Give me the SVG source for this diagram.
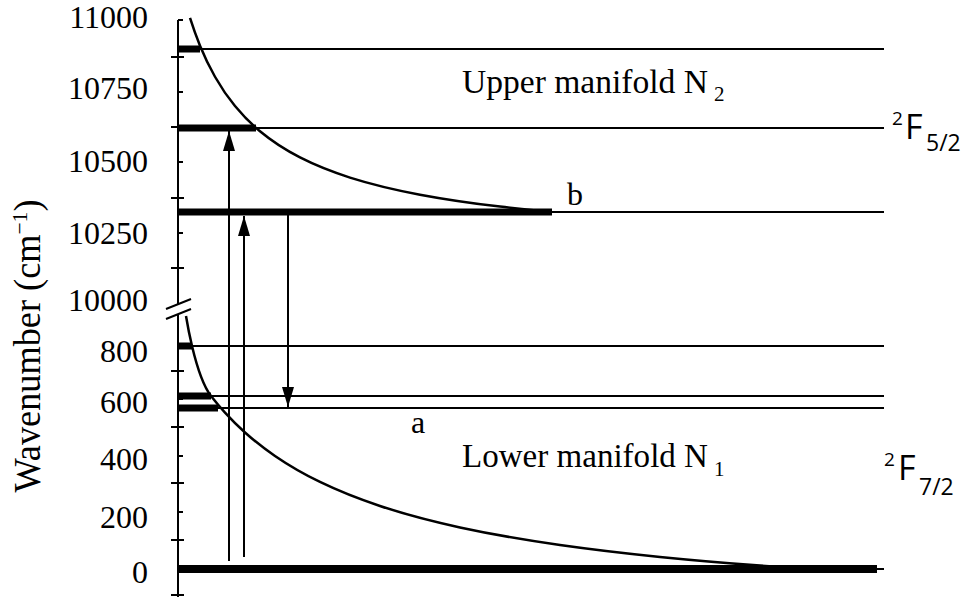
<svg xmlns="http://www.w3.org/2000/svg" width="972" height="597" viewBox="0 0 972 597">
<style>
.ax{stroke:#000;stroke-width:2;fill:none}
.lvl{stroke:#000;stroke-width:2;fill:none}
.bar{fill:#000}
.crv{stroke:#000;stroke-width:2.5;fill:none}
.arr{stroke:#000;stroke-width:2;fill:none;marker-end:url(#ah)}
.tk{font-family:"Liberation Serif","DejaVu Serif",serif;font-size:32px;fill:#000;text-anchor:end}
.ser{font-family:"Liberation Serif","DejaVu Serif",serif;fill:#000}
.sans{font-family:"Open Sans","Liberation Sans",sans-serif;fill:#000}
</style>
<defs>
<marker id="ah" viewBox="0 0 20 12" refX="20" refY="6" markerWidth="20" markerHeight="12" markerUnits="userSpaceOnUse" orient="auto">
<path d="M0,0 L20,6 L0,12 Z" fill="#000"/>
</marker>
</defs>
<rect width="972" height="597" fill="#fff"/>

<g id="axis">
<line class="ax" x1="178" y1="20" x2="178" y2="304"/>
<line class="ax" x1="178" y1="314" x2="178" y2="597"/>
<line class="ax" x1="166" y1="309" x2="191" y2="299"/>
<line class="ax" x1="166" y1="319" x2="191" y2="309"/>
<path class="ax" d="M171,57H184M171,127H184M171,198H184M171,268H184M178,20H183M178,92H183M178,162H183M178,233H183"/>
<path class="ax" d="M171,371H184M171,427H184M171,483H184M171,540H184M171,595H184M178,399H183M178,456H183M178,512H183"/>
</g>

<g id="tick-labels">
<text class="tk" x="148" y="28">11000</text>
<text class="tk" x="148" y="99">10750</text>
<text class="tk" x="148" y="172">10500</text>
<text class="tk" x="148" y="244">10250</text>
<text class="tk" x="148" y="311">10000</text>
<text class="tk" x="148" y="362">800</text>
<text class="tk" x="148" y="413">600</text>
<text class="tk" x="148" y="470">400</text>
<text class="tk" x="148" y="528">200</text>
<text class="tk" x="148" y="583">0</text>
</g>

<g id="y-label">
<text class="ser" font-size="37" text-anchor="middle" textLength="293" lengthAdjust="spacingAndGlyphs" transform="translate(40,346) rotate(-90)">Wavenumber (cm<tspan font-size="22" baseline-shift="13">−1</tspan>)</text>
</g>

<g id="levels">
<line class="lvl" x1="178" y1="49" x2="884" y2="49"/>
<rect class="bar" x="178" y="45.5" width="22" height="7"/>
<line class="lvl" x1="178" y1="128" x2="884" y2="128"/>
<rect class="bar" x="178" y="124.5" width="78" height="7"/>
<line class="lvl" x1="178" y1="212" x2="884" y2="212"/>
<rect class="bar" x="178" y="208.5" width="374" height="7"/>
<line class="lvl" x1="178" y1="346" x2="884" y2="346"/>
<rect class="bar" x="178" y="342.5" width="14" height="7"/>
<line class="lvl" x1="178" y1="396" x2="884" y2="396"/>
<rect class="bar" x="178" y="392.5" width="33" height="7"/>
<line class="lvl" x1="178" y1="408" x2="884" y2="408"/>
<rect class="bar" x="178" y="404.5" width="40" height="7"/>
<line class="lvl" x1="178" y1="569" x2="884" y2="569"/>
<rect class="bar" x="178" y="565" width="699" height="8"/>
</g>

<g id="curves">
<path class="crv" d="M190,17.98 C193.33,28.45 196.67,37.52 200,45.66 C205,57.87 210,67.95 215,76.75 C221.67,88.48 228.33,97.93 235,106.07 C243.33,116.24 251.67,124.34 260,131.3 C273.33,142.43 286.67,150.62 300,157.45 C316.67,165.98 333.33,172.3 350,177.58 C373.33,184.97 396.67,190.28 420,194.67 C446.67,199.68 473.33,203.44 500,206.58 C517.33,208.62 534.67,210.39 552,211.98"/>
<path class="crv" d="M186,316 C188,328 190,337.6 192,346 C198.33,372.6 204.67,387.84 211,395.96 C215.67,401.95 220.33,407.45 225,412.58 C231.67,419.91 238.33,426.46 245,432.45 C255,441.43 265,449.13 275,455.99 C290,466.28 305,474.68 320,481.96 C340,491.67 360,499.38 380,505.99 C406.67,514.8 433.33,521.62 460,527.42 C493.33,534.66 526.67,540.26 560,545 C593.33,549.74 626.67,553.6 660,556.94 C693.33,560.28 726.67,563.1 760,565.58 C773.33,566.57 786.67,567.51 800,568.4"/>
</g>

<g id="connectors">
<line class="arr" x1="229" y1="561" x2="229" y2="131"/>
<line class="arr" x1="244" y1="557" x2="244" y2="216"/>
<line class="arr" x1="288" y1="212" x2="288" y2="407"/>
</g>

<g id="labels">
<text class="ser" font-size="34" x="462" y="93" textLength="246" lengthAdjust="spacingAndGlyphs">Upper manifold N</text>
<text class="ser" font-size="21" x="714" y="101">2</text>
<text class="ser" font-size="34" x="462" y="467" textLength="246" lengthAdjust="spacingAndGlyphs">Lower manifold N</text>
<text class="ser" font-size="21" x="714" y="476">1</text>
<text class="ser" font-size="32" x="567" y="205">b</text>
<text class="ser" font-size="32" x="411" y="433">a</text>
<text class="sans" font-size="19" x="892" y="125">2</text>
<text class="sans" font-size="34" x="905" y="139">F</text>
<text class="sans" font-size="23" x="926" y="151">5/2</text>
<text class="sans" font-size="19" x="884" y="466">2</text>
<text class="sans" font-size="34" x="898" y="480">F</text>
<text class="sans" font-size="23" x="919" y="495">7/2</text>
</g>
</svg>
